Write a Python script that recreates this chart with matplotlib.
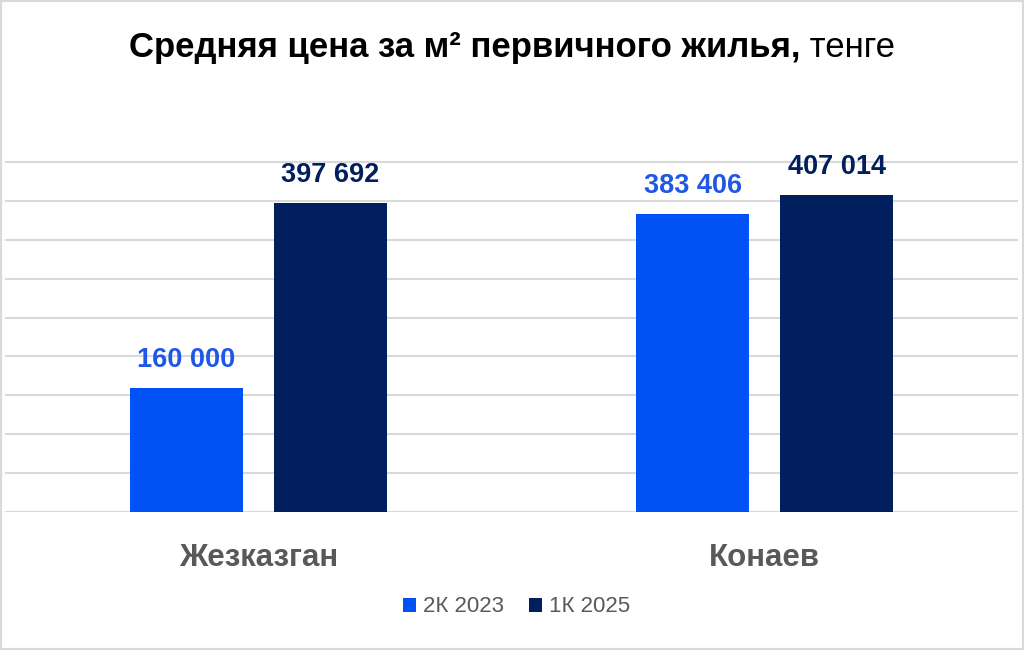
import matplotlib
matplotlib.use("Agg")
import matplotlib.pyplot as plt
from matplotlib.patches import Rectangle
import numpy as np

cities = ["Жезказган", "Конаев"]
series = ["2К 2023", "1К 2025"]
values_2023 = [160000, 383406]
values_2025 = [397692, 407014]
colors = ["#0052F5", "#001F5C"]
label_colors = ["#1F57E6", "#001F5C"]

plt.rcParams["font.family"] = ["Liberation Sans", "DejaVu Sans"]

W, H = 1024, 650
fig = plt.figure(figsize=(W / 100, H / 100), dpi=100)

# light frame round the picture
fig.patches.append(Rectangle((0, 0), 1, 1, transform=fig.transFigure, fill=False,
                             edgecolor="#d9d9d9", linewidth=3))

# axes: baseline at y=512 px, 450000 at y=162 px
ymax = 470000
px_per = (512 - 162) / 450000
top_px = 512 - ymax * px_per
ax = fig.add_axes([5 / W, 1 - 512 / H, (1018 - 5) / W, (512 - top_px) / H])
ax.set_xlim(-0.5, 1.5)
ax.set_ylim(0, ymax)

x = np.arange(len(cities))
bw = 0.223
off = 0.142
b1 = ax.bar(x - off, values_2023, bw, color=colors[0], label=series[0], zorder=3)
b2 = ax.bar(x + off, values_2025, bw, color=colors[1], label=series[1], zorder=3)


def fmt(v):
    return f"{v:,}".replace(",", " ")


for bars, vals, c in [(b1, values_2023, label_colors[0]), (b2, values_2025, label_colors[1])]:
    for rect, v in zip(bars, vals):
        ax.annotate(fmt(v), (rect.get_x() + rect.get_width() / 2, v),
                    xytext=(0, 21), textcoords="offset pixels",
                    ha="center", va="baseline", fontsize=19.5,
                    fontweight="bold", color=c)

ax.set_yticks(np.arange(0, 450001, 50000))
ax.yaxis.grid(True, color="#d9d9d9", linewidth=1.5, zorder=0)
ax.tick_params(left=False, labelleft=False, bottom=False, labelbottom=False)
for s in ax.spines.values():
    s.set_visible(False)

for xi, name in zip(x, cities):
    xf = ax.transData.transform((xi, 0))[0] / W
    fig.text(xf, 1 - 558 / H, name, ha="center", va="center", fontsize=22.5,
             fontweight="bold", color="#595959")

leg = fig.legend(handles=[b1, b2], labels=series, loc="center",
                 bbox_to_anchor=(0.5 + 4.5 / W, 1 - 607 / H),
                 ncol=2, frameon=False, fontsize=16, handlelength=0.6, handleheight=0.6,
                 handletextpad=0.32, columnspacing=1.1, labelcolor="#595959")

# title: bold part plus regular "тенге"
title_font = ["Liberation Sans Narrow", "Liberation Sans", "DejaVu Sans"]
tb = fig.text(0, 1 - 57 / H, "Средняя цена за м² первичного жилья,", ha="left", va="baseline",
              fontsize=25, fontweight="bold", family=title_font, color="#000000")
tr = fig.text(0, 1 - 57 / H, " тенге", ha="left", va="baseline",
              fontsize=25, family=title_font, color="#000000")
fig.canvas.draw()
r = fig.canvas.get_renderer()
wb = tb.get_window_extent(r).width
wr = tr.get_window_extent(r).width
start = (W - wb - wr) / 2
tb.set_x(start / W)
tr.set_x((start + wb) / W)

fig.savefig("out.png", dpi=100)
